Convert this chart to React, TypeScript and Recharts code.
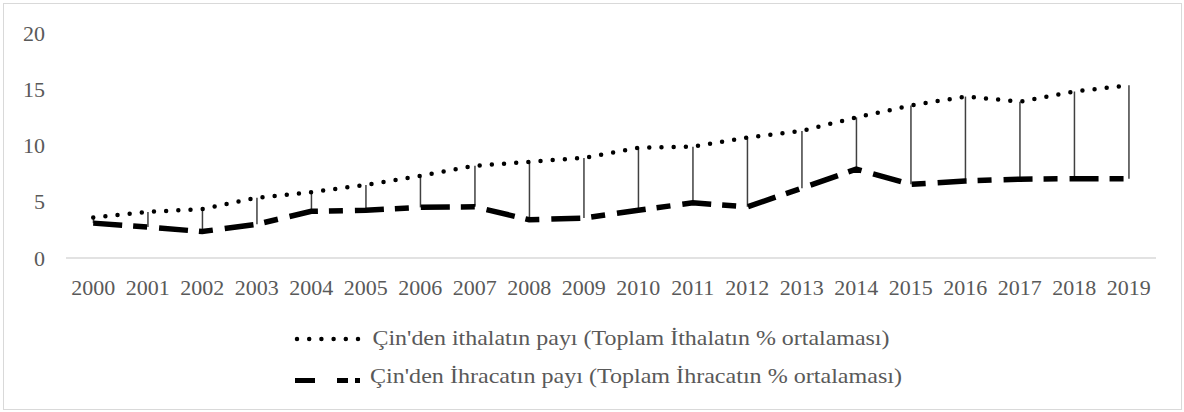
import React from 'react';
import { ComposedChart, Line, Bar, XAxis, YAxis } from 'recharts';

const years = ['2000','2001','2002','2003','2004','2005','2006','2007','2008','2009','2010','2011','2012','2013','2014','2015','2016','2017','2018','2019'];
const importShare = [3.6, 4.1, 4.35, 5.35, 5.85, 6.5, 7.3, 8.2, 8.55, 8.9, 9.8, 9.9, 10.7, 11.3, 12.5, 13.55, 14.35, 13.9, 14.8, 15.35];
const exportShare = [3.1, 2.75, 2.35, 3.0, 4.15, 4.25, 4.5, 4.55, 3.4, 3.55, 4.25, 4.9, 4.55, 6.2, 7.9, 6.55, 6.85, 7.0, 7.05, 7.05];
const yTicks = [0, 5, 10, 15, 20];
const seriesNames = [
  "Çin'den ithalatın payı (Toplam İthalatın % ortalaması)",
  "Çin'den İhracatın payı (Toplam İhracatın % ortalaması)",
];

const data = years.map((y, i) => ({ year: y, imp: importShare[i], exp: exportShare[i] }));

const FONT = '"Liberation Serif", "Times New Roman", serif';
const TXT = '#595959';

const HiLo = (props: any) => {
  const { x, y, width, height } = props;
  if (x == null || y == null) return null;
  const cx = x + width / 2;
  return <line x1={cx} x2={cx} y1={y} y2={y + height} stroke="#404040" strokeWidth={1.5} />;
};

const YTick = (props: any) => {
  const { y, payload } = props;
  return (
    <text x={45} y={y} dy="0.35em" textAnchor="end" fill={TXT} fontSize={22} fontFamily={FONT}>
      {payload.value}
    </text>
  );
};

const XTick = (props: any) => {
  const { x, payload } = props;
  return (
    <text x={x} y={295} textAnchor="middle" fill={TXT} fontSize={22} fontFamily={FONT}>
      {payload.value}
    </text>
  );
};

const LegendBlock = () => (
  <svg width={1184} height={412} style={{ position: 'absolute', left: 0, top: 0, pointerEvents: 'none' }}>
    <line x1={297} x2={358} y1={339} y2={339} stroke="#000" strokeWidth={4.5} strokeDasharray="0 12.2" strokeLinecap="round" />
    <text x={372.5} y={345} fill={TXT} fontSize={22} fontFamily={FONT} textLength={517} lengthAdjust="spacingAndGlyphs">{seriesNames[0]}</text>
    <rect x={295} y={378} width={20} height={5} fill="#000" />
    <rect x={337} y={378} width={11} height={5} fill="#000" />
    <rect x={355} y={378} width={5} height={5} fill="#000" />
    <text x={370} y={383} fill={TXT} fontSize={22} fontFamily={FONT} textLength={532} lengthAdjust="spacingAndGlyphs">{seriesNames[1]}</text>
  </svg>
);

export default function App() {
  return (
    <div style={{ position: 'fixed', left: 0, top: 0, width: 1184, height: 412, background: '#fff' }}>
      <div style={{ position: 'absolute', left: 3, top: 3, width: 1177, height: 405, border: '1px solid #d9d9d9' }} />
      <ComposedChart
        width={1184}
        height={412}
        data={data}
        margin={{ top: 33, right: 28, left: 0, bottom: 114 }}
        style={{ position: 'absolute', left: 0, top: 0 }}
      >
        <XAxis
          dataKey="year"
          interval={0}
          tickLine={false}
          axisLine={{ stroke: '#d9d9d9', strokeWidth: 1.5 }}
          tick={<XTick />}
          height={40}
        />
        <YAxis
          domain={[0, 20]}
          ticks={yTicks}
          axisLine={false}
          tickLine={false}
          tick={<YTick />}
          width={66}
        />
        <Bar dataKey={(d: any) => [d.exp, d.imp]} shape={<HiLo />} isAnimationActive={false} legendType="none" />
        <Line
          dataKey="imp"
          name={seriesNames[0]}
          stroke="#000"
          strokeWidth={4.5}
          strokeDasharray="0 12.2"
          strokeLinecap="round"
          dot={false}
          activeDot={false}
          type="linear"
          isAnimationActive={false}
        />
        <Line
          dataKey="exp"
          name={seriesNames[1]}
          stroke="#000"
          strokeWidth={5.5}
          strokeDasharray="29 11 14 12"
          dot={false}
          activeDot={false}
          type="linear"
          isAnimationActive={false}
        />
      </ComposedChart>
      <LegendBlock />
    </div>
  );
}
